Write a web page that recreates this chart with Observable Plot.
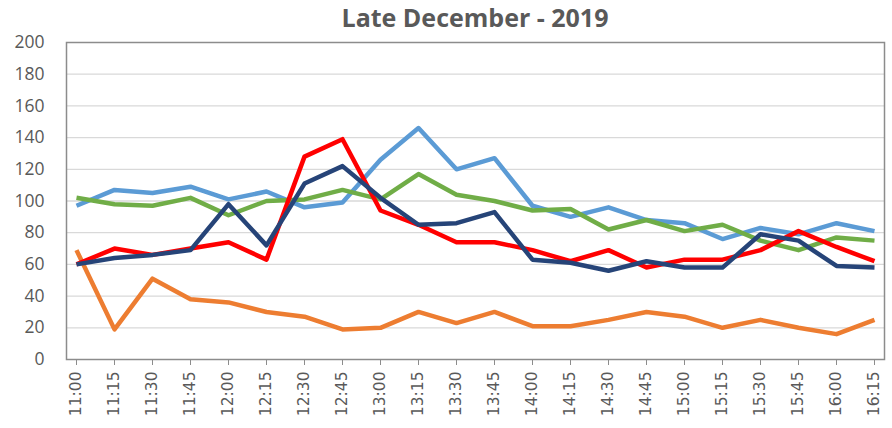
<!DOCTYPE html>
<html>
<head>
<meta charset="utf-8">
<script src="https://cdn.jsdelivr.net/npm/d3@7"></script>
<script src="https://cdn.jsdelivr.net/npm/@observablehq/plot@0.6"></script>
<style>
  html, body { margin: 0; padding: 0; background: #fff; }
  #wrap { width: 892px; height: 428px; position: relative; overflow: hidden; }
  #title { position: absolute; left: 66px; width: 818px; top: 0px; text-align: center; z-index: 2;
    font-family: "Open Sans", sans-serif; font-weight: 700; font-size: 25px; color: #595959; }
  #chart { position: absolute; left: 0; top: 26px; z-index: 1; }
</style>
</head>
<body>
<div id="wrap">
  <div id="title">Late December - 2019</div>
  <div id="chart"></div>
</div>
<script>
const times = ["11:00","11:15","11:30","11:45","12:00","12:15","12:30","12:45","13:00","13:15","13:30","13:45","14:00","14:15","14:30","14:45","15:00","15:15","15:30","15:45","16:00","16:15"];
const lightBlue = [97,107,105,109,101,106,96,99,126,146,120,127,97,90,96,88,86,76,83,79,86,81];
const orange    = [69,19,51,38,36,30,27,19,20,30,23,30,21,21,25,30,27,20,25,20,16,25];
const green     = [102,98,97,102,91,100,101,107,101,117,104,100,94,95,82,88,81,85,75,69,77,75];
const red       = [60,70,66,70,74,63,128,139,94,85,74,74,69,62,69,58,63,63,69,81,71,62];
const navy      = [60,64,66,69,98,72,111,122,102,85,86,93,63,61,56,62,58,58,79,75,59,58];
const yTicks = [0,20,40,60,80,100,120,140,160,180,200];

const series = [
  {name: "Orange", values: orange, color: "#ED7D31"},
  {name: "Light blue", values: lightBlue, color: "#5B9BD5"},
  {name: "Green", values: green, color: "#70AD47"},
  {name: "Red", values: red, color: "#FF0000"},
  {name: "Navy", values: navy, color: "#264478"}
];
const rows = series.flatMap(s => s.values.map((v, i) => ({time: times[i], value: v, series: s.name})));

const chart = Plot.plot({
  width: 892,
  height: 402,
  marginLeft: 66,
  marginRight: 8,
  marginTop: 16,
  marginBottom: 69,
  style: {fontFamily: "Open Sans, sans-serif", color: "#595959", background: "none"},
  x: {type: "point", domain: times, padding: 0, label: null},
  y: {domain: [0, 200], label: null},
  color: {domain: series.map(s => s.name), range: series.map(s => s.color)},
  marks: [
    Plot.gridY(yTicks.filter(t => t > 0 && t < 200), {stroke: "#d9d9d9", strokeOpacity: 1, strokeWidth: 1.3}),
    Plot.frame({stroke: "#8c8c8c", strokeWidth: 1.5}),
    Plot.axisY(yTicks, {tickSize: 0, tickPadding: 22, fontSize: 17.5, fill: "#595959", label: null}),
    Plot.axisX({tickSize: 6, tickPadding: 6, tickRotate: -90, fontSize: 15.5, fill: "#595959", stroke: "#8c8c8c", label: null, fontFamily: "DejaVu Sans, sans-serif"}),
    Plot.line(rows, {x: "time", y: "value", z: "series", stroke: "series", strokeWidth: 4.5, strokeLinejoin: "round", strokeLinecap: "butt"})
  ]
});
document.getElementById("chart").appendChild(chart);
</script>
</body>
</html>
